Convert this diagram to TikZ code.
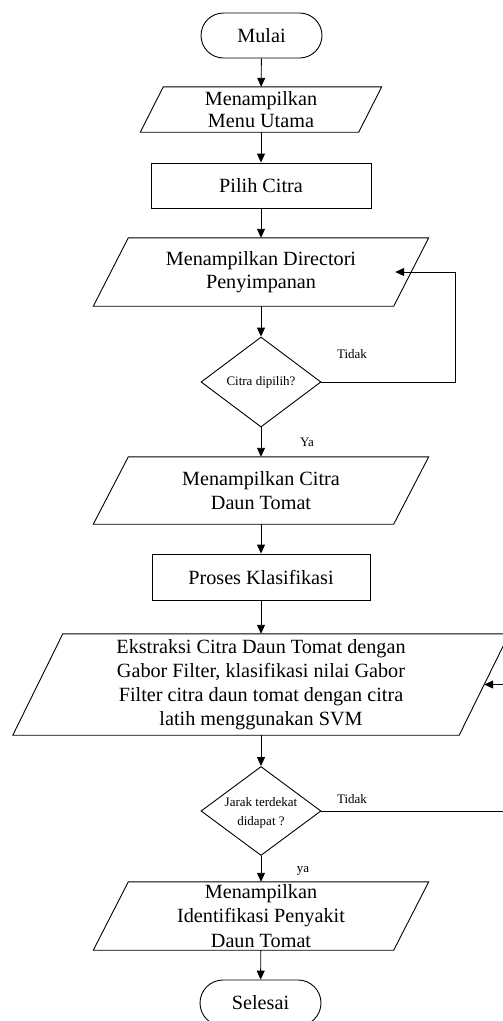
\documentclass[tikz,border=0pt]{standalone}
\usepackage{fontspec}
\setmainfont{Liberation Serif}
\usetikzlibrary{arrows.meta,shapes.geometric}
\newcommand\mainfs{\fontsize{20.2}{23.5}\selectfont}
\newcommand\smallfs{\fontsize{13}{19}\selectfont}
\tikzset{
  outline/.style={draw=black, line width=0.9pt},
  terminal/.style={outline, rectangle, rounded corners=22.5pt, minimum width=121pt,
    minimum height=45pt, inner sep=0pt, font=\mainfs},
  process/.style={outline, rectangle, minimum height=45pt, inner sep=0pt, font=\mainfs},
  iobox/.style={rectangle, inner sep=0pt, align=center, font=\mainfs},
  decision/.style={outline, diamond, minimum width=120pt, minimum height=90pt, inner sep=0pt},
  smalltext/.style={font=\smallfs, align=center, inner sep=0pt},
  flow/.style={line width=0.9pt, -{Triangle[length=9pt,width=8pt]}},
}
\begin{document}
\begin{tikzpicture}[x=1pt, y=-1pt]
  \useasboundingbox (0,0) rectangle (503,1021);

  % terminals and processes
  \node[terminal] (start) at (261.5,35.5) {Mulai};
  \node[process, minimum width=220pt] (pick) at (261,185.5) {Pilih Citra};
  \node[process, minimum width=218pt, minimum height=46pt] (proc) at (261,577) {Proses Klasifikasi};
  \node[terminal, minimum height=46pt, rounded corners=23pt] (end) at (260.5,1003) {Selesai};

  % input/output boxes (outlined as parallelograms below)
  \node[iobox, minimum width=218pt, minimum height=45pt] (menu) at (261,109.5)
    {Menampilkan\\[-1.5pt]Menu Utama};
  \node[iobox, minimum width=300pt, minimum height=68pt] (dir) at (261,272)
    {Menampilkan Directori\\Penyimpanan};
  \node[iobox, minimum width=300pt, minimum height=67pt] (show) at (261,490.5)
    {Menampilkan Citra\\Daun Tomat};
  \node[iobox, minimum width=446pt, minimum height=101pt] (ext) at (261,684.5)
    {Ekstraksi Citra Daun Tomat dengan\\[0.5pt]Gabor Filter, klasifikasi nilai Gabor\\[0.5pt]Filter citra daun tomat dengan citra\\[0.5pt]latih menggunakan SVM};
  \node[iobox, minimum width=300pt, minimum height=68pt] (result) at (261,916)
    {Menampilkan\\[1pt]Identifikasi Penyakit\\[1pt]Daun Tomat};

  \foreach \n/\s in {menu/11.5, dir/17.5, show/17.5, ext/25, result/17.5}
    \draw[outline] ([xshift=\s pt]\n.north west) -- ([xshift=\s pt]\n.north east)
      -- ([xshift=-\s pt]\n.south east) -- ([xshift=-\s pt]\n.south west) -- cycle;

  % decisions
  \node[decision] (q1) at (261,382) {};
  \node[smalltext] at (q1) {Citra dipilih?};
  \node[decision, minimum height=89pt] (q2) at (261,811) {};
  \node[smalltext] at ([yshift=-2pt]q2.center) {Jarak terdekat\\didapat ?};

  % main flow
  \draw[flow] (start) -- (menu);
  \draw[flow] (menu) -- (pick);
  \draw[flow] (pick) -- (dir);
  \draw[flow] (dir) -- (q1);
  \draw[flow] (q1) -- (show);
  \draw[flow] (show) -- (proc);
  \draw[flow] (proc) -- (ext);
  \draw[flow] (ext) -- (q2);
  \draw[flow] (q2) -- (result);
  \draw[flow] (result) -- (end);

  % loops back on "Tidak"
  \coordinate (loopA) at (455,382);
  \coordinate (loopB) at (530,811);
  \draw[flow] (q1.east) -- (loopA) |- ([xshift=-16pt]dir.east);
  \draw[flow] (q2.east) -- (loopB) |- (ext.east);

  % branch labels
  \node[smalltext] (t1) at (352,354) {Tidak};
  \node[smalltext] (y1) at (307,442) {Ya};
  \node[smalltext] (t2) at (352,799) {Tidak};
  \node[smalltext] (y2) at (303,871) {ya};
\end{tikzpicture}
\end{document}
